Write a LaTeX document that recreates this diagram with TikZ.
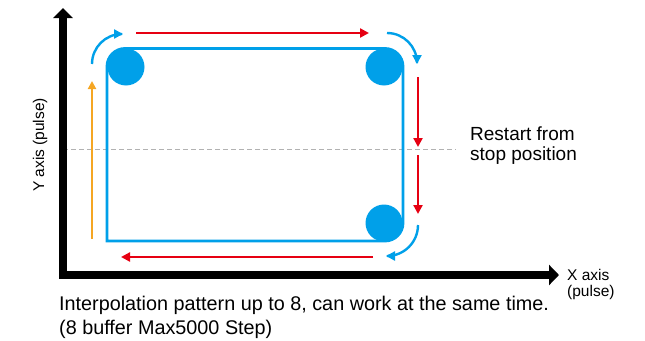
\documentclass[tikz,border=0pt]{standalone}
\usepackage{fontspec}
\setmainfont{Liberation Sans}
\usetikzlibrary{arrows.meta}
\definecolor{cblue}{HTML}{00A0E9}
\definecolor{cred}{HTML}{E60012}
\definecolor{corange}{HTML}{F5A623}
\begin{document}
\begin{tikzpicture}[x=1pt,y=-1pt,
  redarrow/.style={draw=cred,line width=2.4pt,-{Triangle[length=9pt,width=9pt]}},
  bluearrow/.style={draw=cblue,line width=2.4pt,-{Triangle[length=9pt,width=9pt]}},
  orangearrow/.style={draw=corange,line width=2pt,-{Triangle[length=8pt,width=8pt]}},
  dot/.style={circle,fill=cblue,minimum size=37pt,inner sep=0pt},
  lbl/.style={inner sep=0pt,anchor=base west,font=\fontsize{19.8}{22}\selectfont},
  smalllbl/.style={inner sep=0pt,anchor=base west,font=\fontsize{15.5}{17}\selectfont},
  biglbl/.style={inner sep=0pt,anchor=base west,font=\fontsize{19}{21}\selectfont}]
\useasboundingbox (0,0) rectangle (645,340);
% axes
\coordinate (ytip) at (63,8);
\coordinate (origin) at (63,275);
\coordinate (xtip) at (559,275);
% dashed restart line
\coordinate (dl) at (63,149);
\coordinate (dr) at (456,149);
\draw[gray!60,line width=1pt,dash pattern=on 5pt off 3pt] (dl) -- (dr);
\draw[line width=8pt,line join=miter,{Triangle[length=10pt,width=19pt]}-{Triangle[length=10pt,width=20pt]}] (ytip) -- (origin) -- (xtip);
% blue path
\coordinate (bl) at (107,241);
\coordinate (lm) at (107,150);
\coordinate (tl) at (107,48.5);
\coordinate (tr) at (403,48.5);
\coordinate (br) at (403,241);
\coordinate (bm) at (250,241);
\draw[cblue,line width=2.8pt] (bl) -- (lm) [rounded corners=18pt] -- (tl) -- (tr) -- (br) -- (bm) [sharp corners] -- (bl) -- cycle;
\node[dot] (c1) at (126,67) {};
\node[dot] (c2) at (384,67) {};
\node[dot] (c3) at (384,223) {};
% red arrows
\coordinate (rt1) at (136,33); \coordinate (rt2) at (369,33);
\draw[redarrow] (rt1) -- (rt2);
\coordinate (rr1) at (418,77); \coordinate (rr2) at (418,147);
\draw[redarrow] (rr1) -- (rr2);
\coordinate (rr3) at (418,155); \coordinate (rr4) at (418,214);
\draw[redarrow] (rr3) -- (rr4);
\coordinate (rb1) at (373,257); \coordinate (rb2) at (121,257);
\draw[redarrow] (rb1) -- (rb2);
% orange arrow
\coordinate (o1) at (92,239); \coordinate (o2) at (92,81);
\draw[orangearrow] (o1) -- (o2);
% blue curved arrows
\coordinate (a1) at (92,64);
\draw[bluearrow] (a1) arc[start angle=180,end angle=270,radius=30] -- ++(1,0);
\coordinate (a3) at (387,33);
\draw[bluearrow] (a3) arc[start angle=-90,end angle=0,radius=30] -- ++(0,1);
\coordinate (a5) at (418,225);
\draw[bluearrow] (a5) arc[start angle=0,end angle=90,radius=31] -- ++(-1,0);
% labels
\node[smalllbl,rotate=90,anchor=center] (ylab) at (40,145) {Y axis (pulse)};
\node[smalllbl] (xlab1) at (567,280) {X axis};
\node[smalllbl] (xlab2) at (567,296) {(pulse)};
\node[biglbl] (r1) at (470,140) {Restart from};
\node[biglbl] (r2) at (470,160) {stop position};
\node[lbl] (b1) at (59,310) {Interpolation pattern up to 8, can work at the same time.};
\node[lbl] (b2) at (59,334) {(8 buffer Max5000 Step)};
\end{tikzpicture}
\end{document}
